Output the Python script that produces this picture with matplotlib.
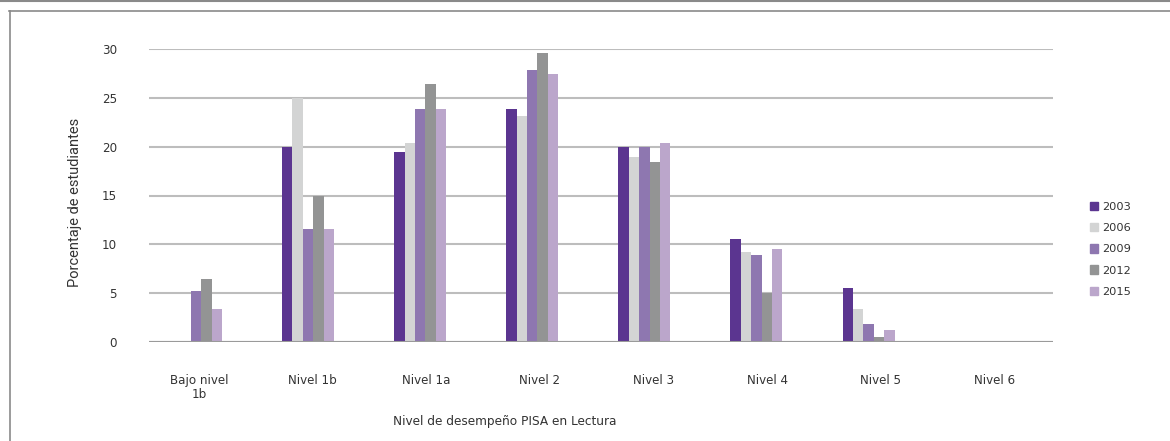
import matplotlib
matplotlib.use("Agg")
import matplotlib.pyplot as plt
from matplotlib.lines import Line2D
import numpy as np

categories = ["Bajo nivel\n1b", "Nivel 1b", "Nivel 1a", "Nivel 2", "Nivel 3", "Nivel 4", "Nivel 5", "Nivel 6"]
years = ["2003", "2006", "2009", "2012", "2015"]
v2003 = [0.0, 20.0, 19.45, 23.85, 20.0, 10.55, 5.5, 0.0]
v2006 = [0.0, 25.0, 20.4, 23.1, 18.95, 9.2, 3.4, 0.0]
v2009 = [5.2, 11.6, 23.85, 27.9, 20.0, 8.9, 1.85, 0.0]
v2012 = [6.4, 15.0, 26.4, 29.6, 18.4, 5.0, 0.5, 0.0]
v2015 = [3.4, 11.6, 23.85, 27.4, 20.4, 9.55, 1.2, 0.0]
series = [v2003, v2006, v2009, v2012, v2015]
colors = ["#5B3590", "#D3D4D4", "#8E77B0", "#939494", "#BBA6CB"]
yticks = [0, 5, 10, 15, 20, 25, 30]

W, H = 1170, 441
plt.rcParams['font.family'] = ['DejaVu Sans']
fig = plt.figure(figsize=(W / 100, H / 100), dpi=100)

ax = fig.add_axes([149 / W, 1 - 342 / H, (1053 - 149) / W, (342 - 49) / H])
x = np.arange(len(categories))
bw = 0.0928
for i, (vals, c, yr) in enumerate(zip(series, colors, years)):
    ax.bar(x + (i - 2) * bw, vals, width=bw, color=c, label=yr, zorder=3, linewidth=0)

ax.set_xlim(-0.419, 7.645)
ax.set_ylim(0, 30)
ax.set_yticks(yticks)
ax.set_yticklabels([str(t) for t in yticks], fontsize=8.6, color="#333333")
ax.set_xticks(x + 0.027 + 0.0134 * x)
ax.set_xticklabels(categories, fontsize=8.6, color="#333333", linespacing=1.15)
ax.tick_params(axis="both", length=0)
ax.tick_params(axis="y", pad=23)
ax.tick_params(axis="x", pad=23)
for s in ax.spines.values():
    s.set_visible(False)
ax.yaxis.grid(True, color="#BDBDBD", linewidth=1.5, zorder=0)
ax.axhline(0, color="#9A9A9A", linewidth=1.5, zorder=4)

fig.text(75 / W, 1 - 202 / H, "Porcentaje de estudiantes", rotation=90,
         ha="center", va="center", fontsize=10.5, color="#333333",
         family=["Liberation Sans Narrow", "Roboto", "DejaVu Sans"])
fig.text(393 / W, 1 - 422 / H, "Nivel de desempeño PISA en Lectura",
         ha="left", va="center", fontsize=8.7, color="#333333")

handles = [plt.Rectangle((0, 0), 1, 1, color=c) for c in colors]
leg = fig.legend(handles, years, loc="upper left", bbox_to_anchor=(1085 / W, 1 - 197 / H),
                 frameon=False, fontsize=8.2, handlelength=0.75, handleheight=0.75,
                 handletextpad=0.35, labelspacing=0.98, borderaxespad=0)
for t in leg.get_texts():
    t.set_color("#333333")

# frame lines
fig.add_artist(Line2D([0, 1], [1 - 0.5 / H, 1 - 0.5 / H], transform=fig.transFigure, color="#8A8A8A", linewidth=1.5))
fig.add_artist(Line2D([9 / W, 1], [1 - 10.5 / H, 1 - 10.5 / H], transform=fig.transFigure, color="#8A8A8A", linewidth=1.2))
fig.add_artist(Line2D([9.5 / W, 9.5 / W], [0, 1 - 10.5 / H], transform=fig.transFigure, color="#8A8A8A", linewidth=1.2))

fig.savefig("out.png", dpi=100)
